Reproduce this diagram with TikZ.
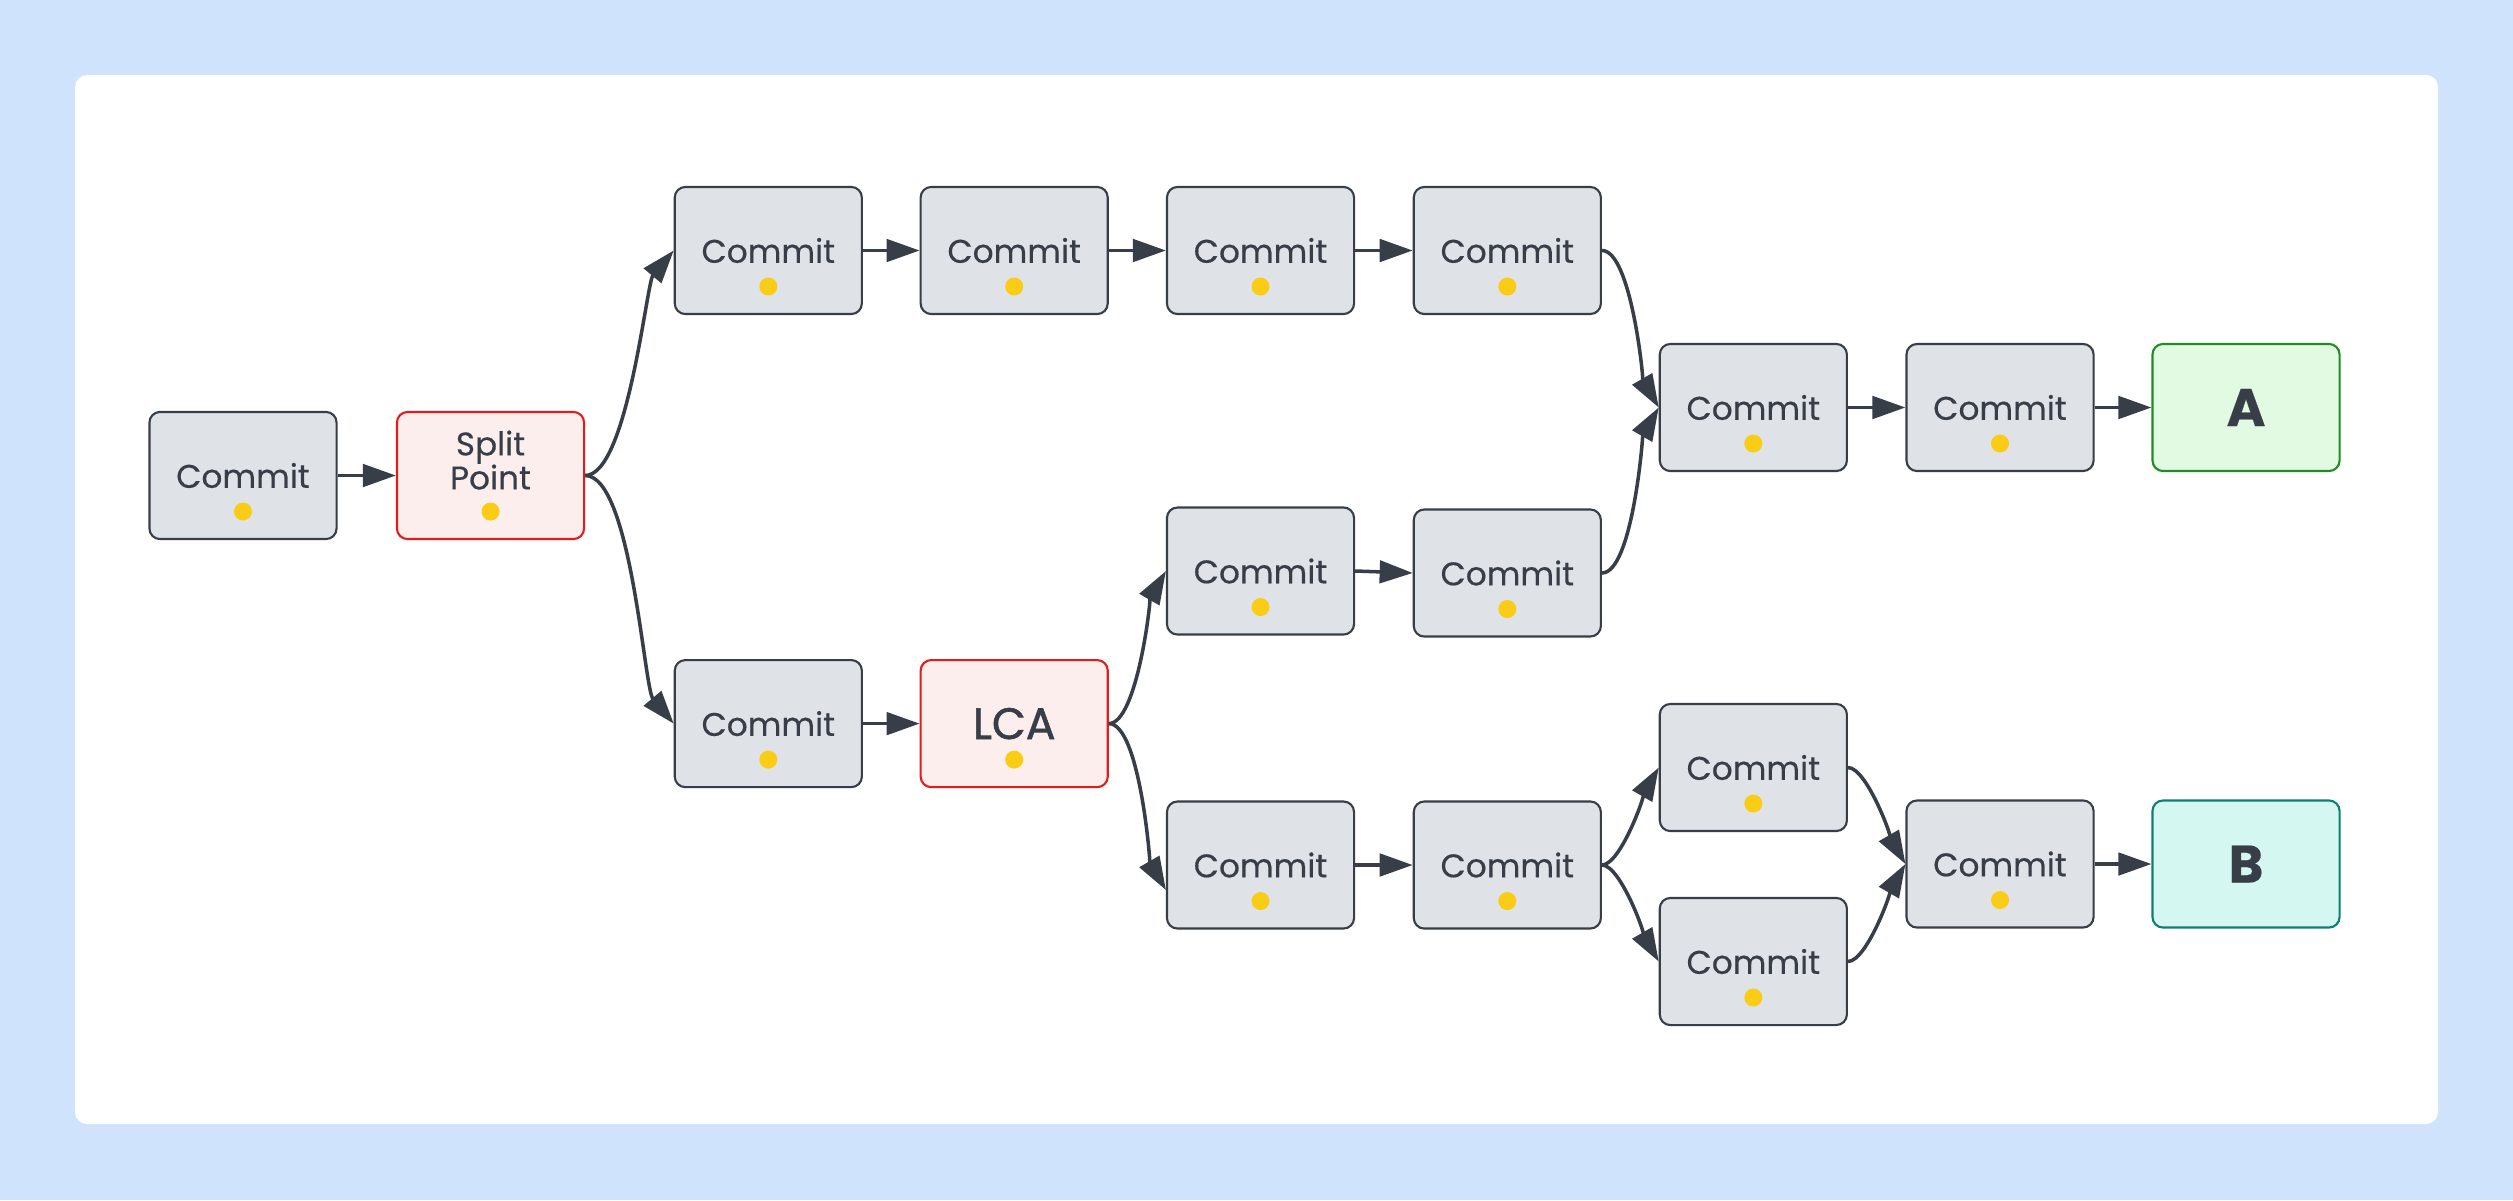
\documentclass[tikz,border=0pt]{standalone}
\usepackage{fontspec}
\setmainfont{Poppins}[FakeBold=0.35]
\newfontfamily\lcafont{Poppins}[FakeBold=1.4]
\definecolor{PageBlue}{HTML}{CFE3FD}
\definecolor{CommitGray}{HTML}{DFE2E7}
\definecolor{EdgeDark}{HTML}{383E48}
\definecolor{MarkRed}{HTML}{E21B1B}
\definecolor{MarkRedFill}{HTML}{FDEEEE}
\definecolor{TipGreen}{HTML}{238B23}
\definecolor{TipGreenFill}{HTML}{E2F9E2}
\definecolor{TipTeal}{HTML}{0F7F6F}
\definecolor{TipTealFill}{HTML}{D5F7F1}
\definecolor{DotYellow}{HTML}{FACC15}
\usepackage{tikz}
\usetikzlibrary{arrows.meta}

\tikzset{
  nodebox/.style={draw=EdgeDark, rounded corners=3pt, line width=0.6pt,
    minimum width=1.87cm, minimum height=1.27cm, inner sep=0pt,
    text=EdgeDark, font=\fontsize{9.3}{8.6}\selectfont},
  commitdot/.style={path picture={
    \fill[DotYellow] ([yshift=-0.36cm]path picture bounding box.center) circle (0.09cm);}},
  commit/.style={nodebox, fill=CommitGray, commitdot},
  marked/.style={nodebox, draw=MarkRed, fill=MarkRedFill, commitdot},
  tipA/.style={nodebox, draw=TipGreen, fill=TipGreenFill, font=\fontsize{15}{15}\selectfont\bfseries},
  tipB/.style={nodebox, draw=TipTeal, fill=TipTealFill, font=\fontsize{15}{15}\selectfont\bfseries},
  arr/.style={draw=EdgeDark, line width=1pt, -{Triangle[length=9.4pt,width=6.4pt]}},
  curvy/.style={out=0, looseness=0.45},
}

\begin{document}
\begin{tikzpicture}[x=0.01cm, y=-0.01cm]
  % page and panel
  \fill[PageBlue] (0,0) rectangle (2513,1200);
  \fill[white, rounded corners=0.12cm] (75,75) rectangle (2438,1124);

  % start and split
  \node[commit] (c0) at (243,475.5) {Commit};
  \node[marked] (split) at (490.5,475.5)
    {\raisebox{0.11cm}[\height][\depth]{\begin{tabular}{@{}c@{}}Split\\Point\end{tabular}}};

  % upper branch
  \node[commit] (t1) at (768.3,250.5) {Commit};
  \node[commit] (t2) at (1014.2,250.5) {Commit};
  \node[commit] (t3) at (1260.5,250.5) {Commit};
  \node[commit] (t4) at (1507.3,250.5) {Commit};
  \node[commit] (joinA) at (1753.3,407.5) {Commit};
  \node[commit] (preA) at (2000,407.5) {Commit};
  \node[tipA] (A) at (2246,407.5) {A};

  % lower branch
  \node[commit] (b1) at (768.3,723.6) {Commit};
  \node[marked, font=\fontsize{12.5}{12}\selectfont\lcafont] (lca) at (1014.2,723.6) {LCA};
  \node[commit] (m1) at (1260.5,571) {Commit};
  \node[commit] (m2) at (1507.3,573) {Commit};
  \node[commit] (l1) at (1260.5,865) {Commit};
  \node[commit] (l2) at (1507.3,865) {Commit};
  \node[commit] (up) at (1753.3,767.5) {Commit};
  \node[commit] (dn) at (1753.3,961.5) {Commit};
  \node[commit] (joinB) at (2000,864) {Commit};
  \node[tipB] (B) at (2246,864) {B};

  % straight links
  \draw[arr] (c0.east) -- (split.west);
  \draw[arr] (t1.east) -- (t2.west);
  \draw[arr] (t2.east) -- (t3.west);
  \draw[arr] (t3.east) -- (t4.west);
  \draw[arr] (joinA.east) -- (preA.west);
  \draw[arr] (preA.east) -- (A.west);
  \draw[arr] (b1.east) -- (lca.west);
  \draw[arr] (m1.east) -- (m2.west);
  \draw[arr] (l1.east) -- (l2.west);
  \draw[arr] (joinB.east) -- (B.west);

  % forks and merges
  \draw[arr] (split.east) to[curvy, in=230] (t1.west);
  \draw[arr] (split.east) to[curvy, in=130] (b1.west);
  \draw[arr] (lca.east) to[curvy, in=240] (m1.west);
  \draw[arr] (lca.east) to[curvy, in=120] ([yshift=-0.25cm]l1.west);
  \draw[arr] (t4.east) to[curvy, in=120] (joinA.west);
  \draw[arr] (m2.east) to[curvy, in=240] (joinA.west);
  \draw[arr] (l2.east) to[curvy, in=240] (up.west);
  \draw[arr] (l2.east) to[curvy, in=120] (dn.west);
  \draw[arr] (up.east) to[curvy, in=120] (joinB.west);
  \draw[arr] (dn.east) to[curvy, in=240] (joinB.west);
\end{tikzpicture}
\end{document}
